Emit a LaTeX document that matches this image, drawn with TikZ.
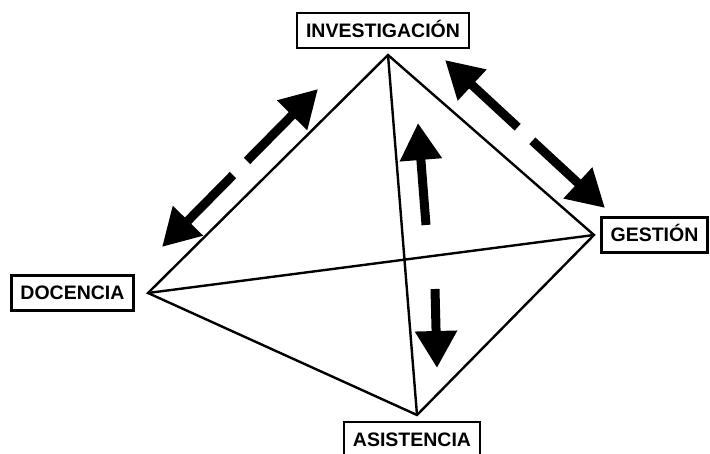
\documentclass[tikz,border=0pt]{standalone}
\usepackage{fontspec}
\setmainfont{Liberation Sans}
\usetikzlibrary{positioning}
\usetikzlibrary{arrows.meta}

\begin{document}
\begin{tikzpicture}[x=1pt, y=-1pt,
  caja/.style = {shape=rectangle, draw, line width=2.4pt,
    font=\fontsize{19.5}{22}\selectfont\bfseries,
    inner xsep=9pt, minimum height=35pt, text height=14pt, text depth=0pt},
  lado/.style = {line width=2.4pt},
  flecha/.style = {line width=9pt, -{Triangle[length=37pt,width=40pt]}}
  ]
  \useasboundingbox (0,0) rectangle (710,454);
  % vertices
  \coordinate (inv) at (388,55);
  \coordinate (ges) at (594,235);
  \coordinate (doc) at (148,293);
  \coordinate (asi) at (417,415);
  % cajas
  \node[caja] (invbox) at (383,30.5) {INVESTIGACIÓN};
  \node[caja] (gesbox) at (654.5,235) {GESTIÓN};
  \node[caja] (docbox) at (72.5,293) {DOCENCIA};
  \node[caja] (asibox) at (412,439.5) {ASISTENCIA};
  % lados
  \draw[lado] (inv) -- (doc) -- (asi) -- (ges) -- cycle;
  \draw[lado] (inv) -- (asi);
  \draw[lado] (doc) -- (ges);
  % flechas
  \coordinate (m1) at (240,168);
  \coordinate (m1a) at (162,247);
  \coordinate (m1b) at (318,89);
  \draw[flecha, shorten <=10pt] (m1) -- (m1a);
  \draw[flecha, shorten <=10pt] (m1) -- (m1b);
  \coordinate (m2) at (525,134);
  \coordinate (m2a) at (445,60);
  \coordinate (m2b) at (605,208);
  \draw[flecha, shorten <=10pt] (m2) -- (m2a);
  \draw[flecha, shorten <=10pt] (m2) -- (m2b);
  \coordinate (sube0) at (426,225);
  \coordinate (sube1) at (418,123);
  \draw[flecha] (sube0) -- (sube1);
  \coordinate (baja0) at (435,289);
  \coordinate (baja1) at (437,368);
  \draw[flecha] (baja0) -- (baja1);
\end{tikzpicture}
\end{document}
